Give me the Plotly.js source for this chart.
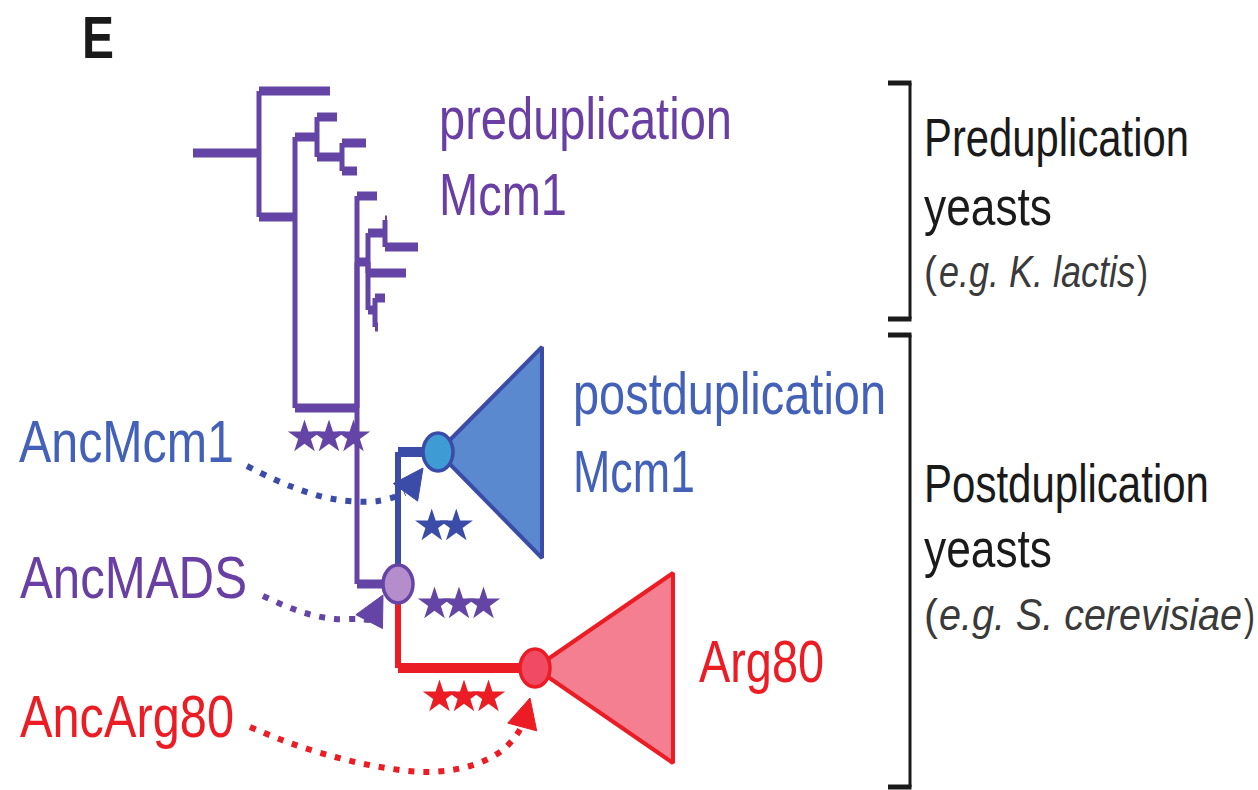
<!DOCTYPE html>
<html><head><meta charset="utf-8">
<script src="https://cdn.plot.ly/plotly-3.0.1.min.js"></script>
<style>html,body{margin:0;padding:0;background:#fff;} #chart{width:1258px;height:790px;}</style>
</head><body><div id="chart"></div>
<script>
// ---------------- DATA ----------------
// Tree nodes: depth (horizontal position) and row (vertical position) in figure units
const nodeNames  = ['stem','root','tipA','n2','n3','tipB','n4','tipC','tipD','n5','tipE','n6','n7','tipG','tipH','tipF','n8','tipI','tipJ','AncMADS','AncMcm1','AncArg80'];
const nodeDepth  = [193, 259, 330, 295, 317, 337, 342, 366, 357, 357, 377, 368, 385, 387, 418, 406, 375, 385, 378, 398, 438, 535];
const nodeRow    = [153, 153,  91, 217, 137, 117, 157, 143, 171, 408, 196, 262, 233, 220, 247, 273, 310, 298, 327, 584, 452, 668];
const nodeParent = [null,'stem','root','root','n2','n3','n3','n4','n4','n2','n5','n5','n6','n7','n7','n6','n6','n8','n8','n5','AncMADS','AncMADS'];
const nodeClade  = ['pre','pre','pre','pre','pre','pre','pre','pre','pre','pre','pre','pre','pre','pre','pre','pre','pre','pre','pre','pre','mcm1','arg80'];

// Collapsed clades (triangles)
const cladeNames     = ['postduplication Mcm1', 'Arg80'];
const cladeRootNode  = ['AncMcm1', 'AncArg80'];
const cladeTipDepth  = [542, 673];
const cladeTop       = [347, 573];
const cladeBottom    = [558, 763];

// Ancestral nodes (circles)
const ancNodes = ['AncMcm1', 'AncMADS', 'AncArg80'];

// Branch support stars
const supportCount = [3, 2, 3, 3];
const supportX     = [329, 444, 459, 464];
const supportY     = [437, 526, 604, 697];
const supportClade = ['pre', 'mcm1', 'pre', 'arg80'];

// Dashed pointer curves from ancestral labels to nodes
const arrowNames  = ['AncMcm1', 'AncMADS', 'AncArg80'];
const arrowCurveX = [[247,290,333,378,405],[263,288,312,335,358,370],[250,290,335,380,427,470,500,515,523]];
const arrowCurveY = [[466,486,499,501,493],[596,607,615,619,619,620],[727,743,757,767,772,766,752,737,724]];
const arrowTipX   = [423, 383, 530];
const arrowTipY   = [468, 595, 698];

// Brackets
const bracketNames  = ['Preduplication yeasts', 'Postduplication yeasts'];
const bracketTop    = [83, 335];
const bracketBottom = [319, 787];

// Text labels
const labelText = ['E','preduplication','Mcm1','postduplication','Mcm1','Arg80','AncMcm1','AncMADS','AncArg80',
  'Preduplication','yeasts','(','e.g. K. lactis',')','Postduplication','yeasts','(','e.g. S. cerevisiae',')'];
const labelKind = ['panel','pre','pre','mcm1','mcm1','arg80','mcm1','pre','arg80',
  'black','black','gray','gray','gray','black','black','gray','gray','gray'];

// ---------------- STYLE / LAYOUT ----------------
const lineCol = {pre:'#6444a4', mcm1:'#3b4ba8', arg80:'#ec1c24'};
const textCol = {pre:'#6a3fa4', mcm1:'#4361b8', arg80:'#ec1c24', black:'#1a1a1a', gray:'#3a3a3a', panel:'#1a1a1a'};
const cladeFill = ['#5b89cf', '#f47f90'];
const cladeLine = ['#3b4ba8', '#ec1c24'];
const ancFill = {AncMcm1:'#3e9bd4', AncMADS:'#b58ccc', AncArg80:'#f04a64'};
const ancLine = {AncMcm1:'#3b4ba8', AncMADS:'#6444a4', AncArg80:'#ec1c24'};
const hWidth = {pre:9, mcm1:10, arg80:10};
const vWidth = {pre:5, mcm1:6, arg80:6};
const labelX =        [80, 437, 437, 571, 571, 697, 17, 18, 18, 922, 922, 922, 937, 1135, 922, 922, 922, 937, 1242];
const labelBaseline = [58, 139, 215, 414, 492, 682, 462, 598, 737, 156, 225, 287, 287, 287, 502, 567, 630, 630, 630];
const labelSize =     [60, 59, 59, 59, 59, 59, 60, 60, 60, 53, 53, 44, 44, 44, 53, 53, 44, 44, 44];
const labelWidth =    [32, 293, 128, 313, 122, 125, 215, 227, 214, 265, 128, 13, 196, 11, 285, 128, 14, 303, 11];
const labelItalic =   [0, 0, 0, 0, 0, 0, 0, 0, 0, 0, 0, 0, 1, 0, 0, 0, 0, 1, 0];
const CONDENSE = 0.8;   // the original uses a narrow typeface: set glyphs smaller, stretch vertically
const FONT = '"Liberation Sans", Arial, sans-serif';

const idx = n => nodeNames.indexOf(n);
const traces = [];

// triangles
cladeNames.forEach((c, i) => {
  const r = idx(cladeRootNode[i]);
  traces.push({type:'scatter', mode:'lines', name:c,
    x:[nodeDepth[r], cladeTipDepth[i], cladeTipDepth[i], nodeDepth[r]],
    y:[nodeRow[r], cladeTop[i], cladeBottom[i], nodeRow[r]],
    fill:'toself', fillcolor:cladeFill[i], line:{color:cladeLine[i], width:4}, hoverinfo:'skip'});
});

// tree branches (elbow style)
['pre','mcm1','arg80'].forEach(cl => {
  const hx=[], hy=[], vx=[], vy=[];
  nodeNames.forEach((n, i) => {
    if (nodeParent[i] === null || nodeClade[i] !== cl) return;
    const p = idx(nodeParent[i]);
    vx.push(nodeDepth[p], nodeDepth[p], null); vy.push(nodeRow[p], nodeRow[i], null);
    hx.push(nodeDepth[p], nodeDepth[i], null); hy.push(nodeRow[i], nodeRow[i], null);
  });
  traces.push({type:'scatter', mode:'lines', x:vx, y:vy, line:{color:lineCol[cl], width:vWidth[cl]}, hoverinfo:'skip'});
  traces.push({type:'scatter', mode:'lines', x:hx, y:hy, line:{color:lineCol[cl], width:hWidth[cl]}, hoverinfo:'skip'});
});

// support stars
supportCount.forEach((k, i) => {
  const xs = [];
  for (let j = 0; j < k; j++) xs.push(supportX[i] + (j - (k - 1) / 2) * 24.5);
  traces.push({type:'scatter', mode:'markers', x:xs, y:xs.map(() => supportY[i]),
    marker:{symbol:'star', size:25, color:lineCol[supportClade[i]], line:{width:0}}, hoverinfo:'skip'});
});

// dashed pointers + arrowheads
const arrowClade = {AncMcm1:'mcm1', AncMADS:'pre', AncArg80:'arg80'};
arrowNames.forEach((a, i) => {
  const col = lineCol[arrowClade[a]];
  traces.push({type:'scatter', mode:'lines', x:arrowCurveX[i], y:arrowCurveY[i],
    line:{color:col, width:6, shape:'spline', dash:'6px,9px'}, hoverinfo:'skip'});
  const lx = arrowCurveX[i][arrowCurveX[i].length - 1], ly = arrowCurveY[i][arrowCurveY[i].length - 1];
  const dx = arrowTipX[i] - lx, dy = arrowTipY[i] - ly, d = Math.hypot(dx, dy);
  const ux = dx / d, uy = dy / d, L = 30, W = 15;
  const bx = arrowTipX[i] - L * ux, by = arrowTipY[i] - L * uy;
  traces.push({type:'scatter', mode:'lines',
    x:[arrowTipX[i], bx - W * uy, bx + W * uy, arrowTipX[i]],
    y:[arrowTipY[i], by + W * ux, by - W * ux, arrowTipY[i]],
    fill:'toself', fillcolor:col, line:{color:col, width:1}, hoverinfo:'skip'});
});

// brackets
const bx0 = 888, bx1 = 910;
{
  const vx=[], vy=[], tx=[], ty=[];
  bracketNames.forEach((b, i) => {
    vx.push(bx1, bx1, null); vy.push(bracketTop[i], bracketBottom[i], null);
    tx.push(bx0, bx1 + 1.5, null, bx0, bx1 + 1.5, null); ty.push(bracketTop[i], bracketTop[i], null, bracketBottom[i], bracketBottom[i], null);
  });
  traces.push({type:'scatter', mode:'lines', x:vx, y:vy, line:{color:'#1a1a1a', width:3}, hoverinfo:'skip'});
  traces.push({type:'scatter', mode:'lines', x:tx, y:ty, line:{color:'#1a1a1a', width:5}, hoverinfo:'skip'});
}

// ancestral node ellipses
const shapes = ancNodes.map(a => {
  const i = idx(a);
  return {type:'circle', xref:'x', yref:'y', layer:'above',
    x0:nodeDepth[i] - 15, x1:nodeDepth[i] + 15, y0:nodeRow[i] - 19, y1:nodeRow[i] + 19,
    fillcolor:ancFill[a], line:{color:ancLine[a], width:3.5}};
});

// text labels
const annotations = labelText.map((t, i) => ({
  xref:'x', yref:'y', x:labelX[i], y:labelBaseline[i] - 0.35 * labelSize[i],
  xanchor:'left', yanchor:'middle', align:'left', showarrow:false, text:t,
  font:{family:FONT, size:labelSize[i] * CONDENSE, color:textCol[labelKind[i]],
        weight: labelKind[i] === 'panel' ? 700 : 400, style: labelItalic[i] ? 'italic' : 'normal'}
}));

const layout = {
  width:1258, height:790, margin:{l:0, r:0, t:0, b:0},
  paper_bgcolor:'#ffffff', plot_bgcolor:'#ffffff', showlegend:false,
  xaxis:{range:[0,1258], visible:false, fixedrange:true},
  yaxis:{range:[790,0], visible:false, fixedrange:true},
  shapes, annotations
};
Plotly.newPlot('chart', traces, layout, {displayModeBar:false, staticPlot:true}).then(gd => {
  // narrow-typeface look: fit each label to its measured width, then stretch vertically about its centre
  gd.querySelectorAll('g.annotation').forEach(g => {
    const i = +g.getAttribute('data-index');
    const t = g.querySelector('text.annotation-text');
    if (!t || isNaN(i)) return;
    const bb = t.getBBox();
    const x0 = bb.x, cy = bb.y + bb.height / 2;
    t.setAttribute('text-anchor', 'start');
    t.setAttribute('textLength', labelWidth[i]);
    t.setAttribute('lengthAdjust', 'spacingAndGlyphs');
    const bb2 = t.getBBox();
    t.setAttribute('x', (+t.getAttribute('x')) + (x0 - bb2.x));
    const k = 1 / CONDENSE;
    const prev = t.getAttribute('transform') || '';
    t.setAttribute('transform', prev + ` translate(0,${cy}) scale(1,${k}) translate(0,${-cy})`);
    const r = g.querySelector('rect.bg');
    if (r) r.setAttribute('width', labelWidth[i] + 2);
  });
});
</script></body></html>
